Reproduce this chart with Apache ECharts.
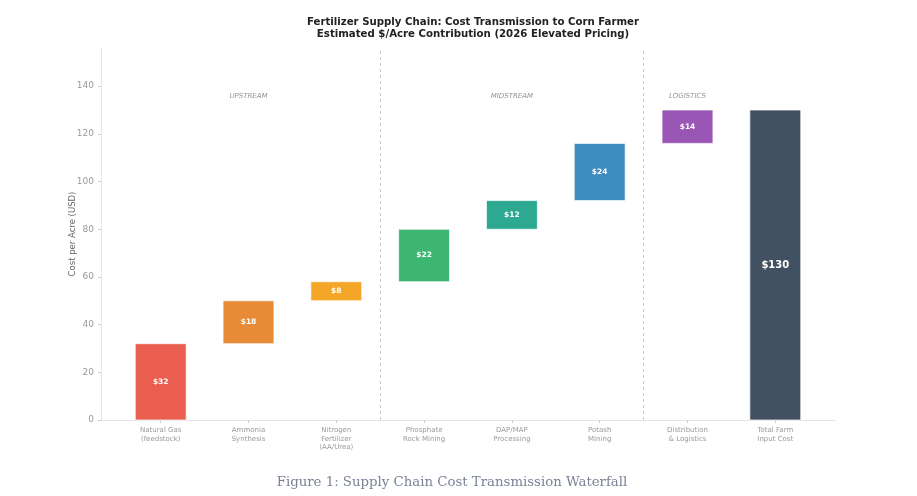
<!DOCTYPE html>
<html>
<head>
<meta charset="utf-8">
<style>
  html, body { margin: 0; padding: 0; background: #fff; }
  #main { width: 917px; height: 496px; }
</style>
<script src="https://cdn.jsdelivr.net/npm/echarts@6/dist/echarts.min.js"></script>
</head>
<body>
<div id="main"></div>
<script>
// categories and their cost contributions ($/acre)
var categories = ['Natural Gas\n(feedstock)', 'Ammonia\nSynthesis', 'Nitrogen\nFertilizer\n(AA/Urea)',
  'Phosphate\nRock Mining', 'DAP/MAP\nProcessing', 'Potash\nMining', 'Distribution\n& Logistics', 'Total Farm\nInput Cost'];
var contributions = [32, 18, 8, 22, 12, 24, 14, 130];
var isTotal = [false, false, false, false, false, false, false, true];
var barColors = ['#e74c3c', '#e67e22', '#f39c12', '#27ae60', '#16a085', '#2980b9', '#8e44ad', '#2c3e50'];
var sectionNames = ['UPSTREAM', 'MIDSTREAM', 'LOGISTICS'];
var sectionPos = [1, 4, 6];
var sectionY = 136;
var dividers = [2.5, 5.5];
var yTicks = [0, 20, 40, 60, 80, 100, 120, 140];

// build waterfall rows: [index, base, top, value]
var rows = [];
var running = 0;
for (var i = 0; i < contributions.length; i++) {
  if (isTotal[i]) {
    rows.push([i, 0, contributions[i], contributions[i]]);
  } else {
    rows.push([i, running, running + contributions[i], contributions[i]]);
    running += contributions[i];
  }
}

var myChart = echarts.init(document.getElementById('main'));

var option = {
  backgroundColor: '#fff',
  animation: false,
  title: {
    text: 'Fertilizer Supply Chain: Cost Transmission to Corn Farmer\nEstimated $/Acre Contribution (2026 Elevated Pricing)',
    left: 468,
    top: 11,
    textAlign: 'center',
    textStyle: { fontFamily: 'DejaVu Sans', fontSize: 10.2, fontWeight: 'bold', color: '#222', lineHeight: 12.5 }
  },
  graphic: [{
    type: 'text',
    x: 452,
    y: 476,
    style: { text: 'Figure 1: Supply Chain Cost Transmission Waterfall', font: '13.3px "DejaVu Serif"', fill: '#7a8296', align: 'center' }
  }],
  grid: { left: 101, right: 82, top: 48, bottom: 76 },
  xAxis: {
    type: 'value',
    min: -0.68,
    max: 7.68,
    splitLine: { show: false },
    axisLine: { show: true, onZero: false, lineStyle: { color: '#e2e4ea' } },
    axisTick: { show: true, customValues: [0, 1, 2, 3, 4, 5, 6, 7], length: 3, lineStyle: { color: '#ccc' } },
    axisLabel: {
      customValues: [0, 1, 2, 3, 4, 5, 6, 7],
      formatter: function (v) { return categories[Math.round(v)]; },
      color: '#999', fontSize: 7, fontFamily: 'DejaVu Sans', lineHeight: 8.5, margin: 6
    }
  },
  yAxis: {
    type: 'value',
    min: 0,
    max: 156,
    name: 'Cost per Acre (USD)',
    nameLocation: 'middle',
    nameGap: 24,
    nameMoveOverlap: false,
    nameTextStyle: { color: '#666', fontSize: 8.5, fontFamily: 'DejaVu Sans' },
    splitLine: { show: false },
    axisLine: { show: true, onZero: false, lineStyle: { color: '#e2e4ea' } },
    axisTick: { show: true, customValues: yTicks, length: 3, lineStyle: { color: '#ccc' } },
    axisLabel: { customValues: yTicks, color: '#999', fontSize: 9, fontFamily: 'DejaVu Sans', margin: 7 }
  },
  series: [
    {
      type: 'custom',
      data: rows,
      encode: { x: 0, y: [1, 2] },
      renderItem: function (params, api) {
        var idx = api.value(0);
        var p0 = api.coord([idx, api.value(1)]);
        var p1 = api.coord([idx, api.value(2)]);
        var w = api.size([0.58, 0])[0];
        var total = isTotal[idx];
        return {
          type: 'group',
          children: [{
            type: 'rect',
            shape: { x: p0[0] - w / 2, y: p1[1], width: w, height: p0[1] - p1[1] },
            style: { fill: barColors[idx], opacity: 0.9, stroke: '#fff', lineWidth: 0.8 }
          }, {
            type: 'text',
            x: p0[0],
            y: (p0[1] + p1[1]) / 2,
            style: {
              text: '$' + api.value(3),
              fill: '#fff',
              align: 'center',
              verticalAlign: 'middle',
              font: 'bold ' + (total ? 10 : 7.5) + 'px "DejaVu Sans"'
            }
          }]
        };
      },
      markLine: {
        silent: true,
        symbol: 'none',
        label: { show: false },
        lineStyle: { type: [3, 3], color: '#bbb', width: 0.8 },
        data: dividers.map(function (d) { return { xAxis: d }; })
      },
      z: 2
    },
    {
      type: 'scatter',
      symbolSize: 0,
      data: sectionNames.map(function (n, k) { return { value: [sectionPos[k], sectionY], name: n }; }),
      label: {
        show: true,
        position: 'inside',
        formatter: '{b}',
        color: '#777',
        fontSize: 7,
        fontStyle: 'italic',
        fontFamily: 'DejaVu Sans'
      },
      silent: true
    }
  ]
};

myChart.setOption(option);
window.addEventListener('resize', function () {
  myChart.resize();
});
</script>
</body>
</html>
